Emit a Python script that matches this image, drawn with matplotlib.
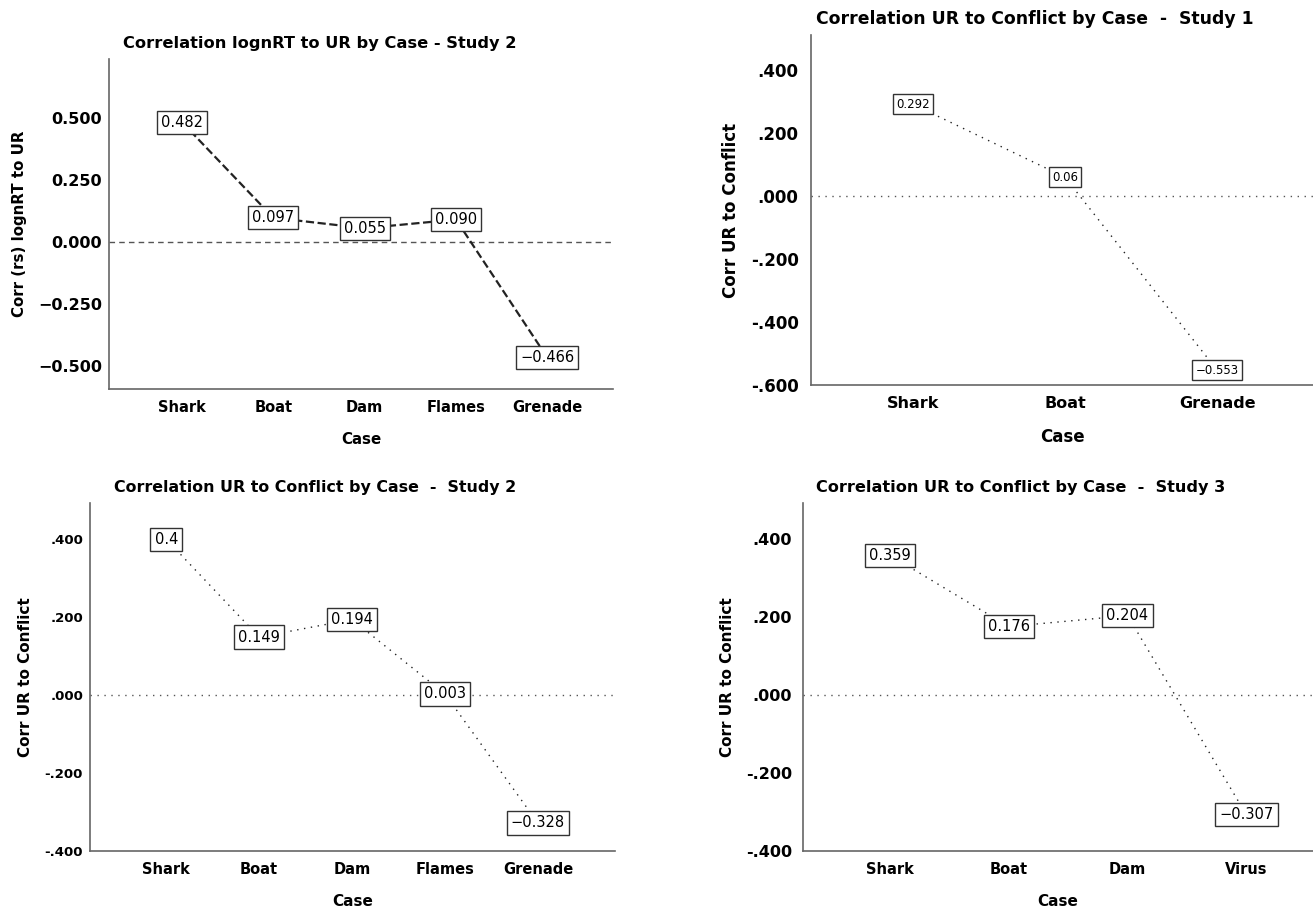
import matplotlib
matplotlib.use("Agg")
import matplotlib.pyplot as plt

W, H = 1313, 911

# panel 1: lognRT to UR, study 2
cases_1 = ["Shark", "Boat", "Dam", "Flames", "Grenade"]
corr_1 = [0.482, 0.097, 0.055, 0.090, -0.466]
labels_1 = ["0.482", "0.097", "0.055", "0.090", "\u22120.466"]
yticks_1 = [-0.5, -0.25, 0.0, 0.25, 0.5]
yticklabels_1 = ["\u22120.500", "\u22120.250", "0.000", "0.250", "0.500"]

# panel 2: UR to conflict, study 1
cases_2 = ["Shark", "Boat", "Grenade"]
corr_2 = [0.292, 0.06, -0.553]
labels_2 = ["0.292", "0.06", "\u22120.553"]
yticks_2 = [-0.6, -0.4, -0.2, 0.0, 0.2, 0.4]
yticklabels_2 = ["-.600", "-.400", "-.200", ".000", ".200", ".400"]

# panel 3: UR to conflict, study 2
cases_3 = ["Shark", "Boat", "Dam", "Flames", "Grenade"]
corr_3 = [0.4, 0.149, 0.194, 0.003, -0.328]
labels_3 = ["0.4", "0.149", "0.194", "0.003", "\u22120.328"]
yticks_3 = [-0.4, -0.2, 0.0, 0.2, 0.4]
yticklabels_3 = ["-.400", "-.200", ".000", ".200", ".400"]

# panel 4: UR to conflict, study 3
cases_4 = ["Shark", "Boat", "Dam", "Virus"]
corr_4 = [0.359, 0.176, 0.204, -0.307]
labels_4 = ["0.359", "0.176", "0.204", "\u22120.307"]
yticks_4 = yticks_3
yticklabels_4 = yticklabels_3

plt.rcParams['font.family'] = ['DejaVu Sans']

fig = plt.figure(figsize=(W / 100, H / 100), dpi=100)


def px_axes(left, right, top, bottom):
    ax = fig.add_axes([left / W, (H - bottom) / H, (right - left) / W, (bottom - top) / H])
    ax._px = (left, right)
    return ax


def panel(ax, cases, vals, labs, yt, ytl, title, title_cx, ylabel, ylim, xlim,
          ls, lw, tick_fs, box_fs, cat_fs, title_fs, lab_fs, ypad):
    x = list(range(len(cases)))
    ax.axhline(0, color="#555555", lw=1, ls=ls[1], zorder=1)
    ax.plot(x, vals, color="#222222", lw=lw, ls=ls[0], zorder=2)
    for xi, v, t in zip(x, vals, labs):
        ax.text(xi, v, t, ha="center", va="center", fontsize=box_fs, zorder=3,
                bbox=dict(boxstyle="square,pad=0.28", fc="white", ec="#333333", lw=1))
    ax.set_xlim(*xlim)
    ax.set_ylim(*ylim)
    ax.set_xticks(x)
    ax.set_xticklabels(cases, fontsize=cat_fs, fontweight="bold")
    ax.set_yticks(yt)
    ax.set_yticklabels(ytl, fontsize=tick_fs, fontweight="bold")
    ax.tick_params(axis="x", length=0, pad=8)
    ax.tick_params(axis="y", length=0, pad=ypad)
    for s in ["top", "right"]:
        ax.spines[s].set_visible(False)
    for s in ["left", "bottom"]:
        ax.spines[s].set_color("#666666")
        ax.spines[s].set_linewidth(1.2)
    left, right = ax._px
    ax.set_title(title, fontsize=title_fs, fontweight="semibold", pad=8,
                 x=(title_cx - left) / (right - left))
    ax.set_xlabel("Case", fontsize=lab_fs, fontweight="bold", labelpad=12)
    ax.set_ylabel(ylabel, fontsize=lab_fs, fontweight="bold", labelpad=8)


ax1 = px_axes(109, 613, 59, 389)
panel(ax1, cases_1, corr_1, labels_1, yticks_1, yticklabels_1,
      "Correlation lognRT to UR by Case - Study 2", 320, "Corr (rs) lognRT to UR",
      (-0.593, 0.737), (-0.8, 4.72), ("--", (0, (4, 3))), 1.6,
      11.5, 10.5, 10.5, 11.7, 10.8, 5)

ax2 = px_axes(811, 1313, 35, 385)
panel(ax2, cases_2, corr_2, labels_2, yticks_2, yticklabels_2,
      "Correlation UR to Conflict by Case  -  Study 1", 1035, "Corr UR to Conflict",
      (-0.6, 0.512), (-0.67, 2.63), ((0, (1, 4)), (0, (1, 4))), 1.0,
      12, 8.5, 11.5, 12.4, 12, 9)

ax3 = px_axes(90, 615, 503, 851)
panel(ax3, cases_3, corr_3, labels_3, yticks_3, yticklabels_3,
      "Correlation UR to Conflict by Case  -  Study 2", 315, "Corr UR to Conflict",
      (-0.4, 0.493), (-0.82, 4.83), ((0, (1, 4)), (0, (1, 4))), 1.0,
      9.5, 10.5, 10.5, 11.4, 11, 5)

ax4 = px_axes(803, 1313, 503, 851)
panel(ax4, cases_4, corr_4, labels_4, yticks_4, yticklabels_4,
      "Correlation UR to Conflict by Case  -  Study 3", 1021, "Corr UR to Conflict",
      (-0.4, 0.493), (-0.73, 3.56), ((0, (1, 4)), (0, (1, 4))), 1.0,
      11.5, 10.5, 10.5, 11.6, 11, 8)

fig.savefig("out.png", dpi=100)
